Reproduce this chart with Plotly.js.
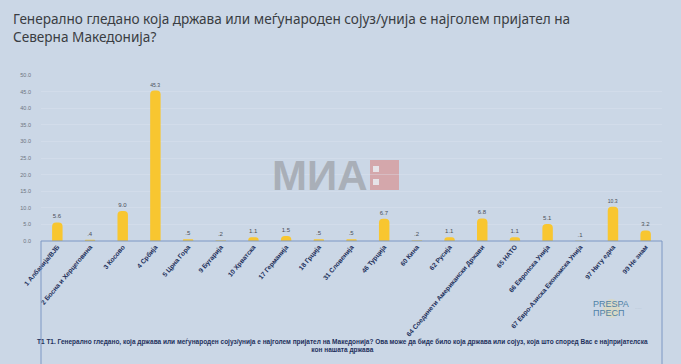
<!DOCTYPE html>
<html>
<head>
<meta charset="utf-8">
<script src="https://cdn.plot.ly/plotly-3.0.1.min.js"></script>
<style>html,body{margin:0;padding:0;background:#cbd7e6;}#chart{width:681px;height:364px;}</style>
</head>
<body>
<div id="chart"></div>
<script>
const categories = [
  "1 Албанија/ВЈБ", "2 Босна и Херцеговина", "3 Косово", "4 Србија", "5 Црна Гора",
  "9 Бугарија", "10 Хрватска", "17 Германија", "18 Грција", "31 Словенија",
  "46 Турција", "60 Кина", "62 Русија", "64 Соединети Американски Држави", "65 НАТО",
  "66 Европска Унија", "67 Евро-Азиска Економска Унија", "97 Ниту една", "99 Не знам"
];
const values = [5.6, 0.4, 9.0, 45.3, 0.5, 0.2, 1.1, 1.5, 0.5, 0.5, 6.7, 0.2, 1.1, 6.8, 1.1, 5.1, 0.1, 10.3, 3.2];
const valueLabels = ["5.6", ".4", "9.0", "45.3", ".5", ".2", "1.1", "1.5", ".5", ".5", "6.7", ".2", "1.1", "6.8", "1.1", "5.1", ".1", "10.3", "3.2"];
const tickValues = [0, 5, 10, 15, 20, 25, 30, 35, 40, 45, 50];
const tickLabels = ["0.0", "5.0", "10.0", "15.0", "20.0", "25.0", "30.0", "35.0", "40.0", "45.0", "50.0"];

const titleText = "Генерално гледано која држава или меѓународен сојуз/унија е најголем пријател на<br>Северна Македонија?";
const footText = "Т1 Т1. Генерално гледано, која држава или меѓународен сојуз/унија е најголем пријател на Македонија? Ова може да биде било која држава или сојуз, која што според Вас е најпријателска<br>кон нашата држава";

const PH = 166;            // plot height in px
const py = p => (241 - p) / PH;   // pixel y -> paper y
const px = p => (p - 41) / 621;   // pixel x -> paper x
const boxBottom = py(364);

const trace = {
  type: "bar",
  x: categories,
  y: values,
  text: valueLabels,
  textposition: "outside",
  cliponaxis: false,
  textfont: {family: "Liberation Sans, Arial, sans-serif", size: 6, color: "#4a4f58"},
  marker: {color: "#f8c630", cornerradius: 4},
  width: 0.32,
  hoverinfo: "none"
};

const layout = {
  width: 681, height: 364,
  paper_bgcolor: "#cbd7e6",
  plot_bgcolor: "#cbd7e6",
  margin: {l: 41, r: 19, t: 75, b: 123},
  showlegend: false,
  xaxis: {
    type: "category",
    tickangle: -50,
    tickfont: {family: "Liberation Sans, Arial, sans-serif", size: 6.6, color: "#23315c", weight: "bold"},
    showgrid: false,
    showline: false,
    ticks: "",
    zeroline: false,
    fixedrange: true
  },
  yaxis: {
    range: [0, 50],
    tickvals: tickValues,
    ticktext: tickLabels,
    tickfont: {family: "Liberation Sans, Arial, sans-serif", size: 5.5, color: "#6d7480"},
    showgrid: true,
    gridcolor: "rgba(225,232,242,0.55)",
    gridwidth: 0.6,
    zeroline: false,
    showline: false,
    ticks: "",
    ticklabelstandoff: 9,
    fixedrange: true
  },
  shapes: [
    {type: "line", xref: "paper", yref: "paper", x0: 0, x1: 1, y0: 0, y1: 0, line: {color: "#7d97c4", width: 1}},
    {type: "line", xref: "paper", yref: "paper", x0: 0, x1: 0, y0: 0, y1: boxBottom, line: {color: "#7d97c4", width: 1}},
    {type: "line", xref: "paper", yref: "paper", x0: 1, x1: 1, y0: 0, y1: boxBottom, line: {color: "#7d97c4", width: 1}},
    {type: "rect", xref: "paper", yref: "paper", x0: px(370), x1: px(399), y0: py(190), y1: py(160), fillcolor: "#d4a7ab", line: {width: 0}, layer: "below"},
    {type: "rect", xref: "paper", yref: "paper", x0: px(373), x1: px(379), y0: py(185), y1: py(179), fillcolor: "#e6e3e8", line: {width: 0}},
    {type: "rect", xref: "paper", yref: "paper", x0: px(373), x1: px(379), y0: py(172), y1: py(166), fillcolor: "#e6e3e8", line: {width: 0}},
    {type: "circle", xref: "paper", yref: "paper", x0: px(603), x1: px(620), y0: py(299), y1: py(318), fillcolor: "rgba(240,220,140,0.35)", line: {width: 0}, layer: "below"}
  ],
  annotations: [
    {text: titleText, xref: "paper", yref: "paper", x: px(11), xanchor: "left", y: py(7), yanchor: "top",
     showarrow: false, align: "left", font: {family: "Noto Sans, Open Sans, sans-serif", size: 13.6, color: "#3a3d42"}},
    {text: "<b>МИА</b>", xref: "paper", yref: "paper", x: px(370), xanchor: "right", y: py(175), yanchor: "middle",
     showarrow: false, font: {family: "Liberation Sans, Arial, sans-serif", size: 42, color: "#a9afb8"}},
    {text: footText, xref: "paper", yref: "paper", x: px(342), xanchor: "center", y: py(336), yanchor: "top",
     showarrow: false, align: "center", font: {family: "Liberation Sans Narrow, Liberation Sans, sans-serif", size: 6.5, color: "#23315c", weight: "bold"}},
    {text: "PRESPA", xref: "paper", yref: "paper", x: px(591), xanchor: "left", y: py(303.5), yanchor: "middle",
     showarrow: false, font: {family: "Liberation Sans Narrow, sans-serif", size: 9, color: "#4f82a6"}},
    {text: "ПРЕСП", xref: "paper", yref: "paper", x: px(591), xanchor: "left", y: py(312.5), yanchor: "middle",
     showarrow: false, font: {family: "Liberation Sans Narrow, sans-serif", size: 9, color: "#4f82a6"}},
    {text: "·····", xref: "paper", yref: "paper", x: px(633), xanchor: "left", y: py(308), yanchor: "middle",
     showarrow: false, font: {family: "Liberation Sans, sans-serif", size: 4, color: "#9aa6b4"}}
  ]
};

Plotly.newPlot("chart", [trace], layout, {staticPlot: true, displayModeBar: false});
</script>
</body>
</html>
